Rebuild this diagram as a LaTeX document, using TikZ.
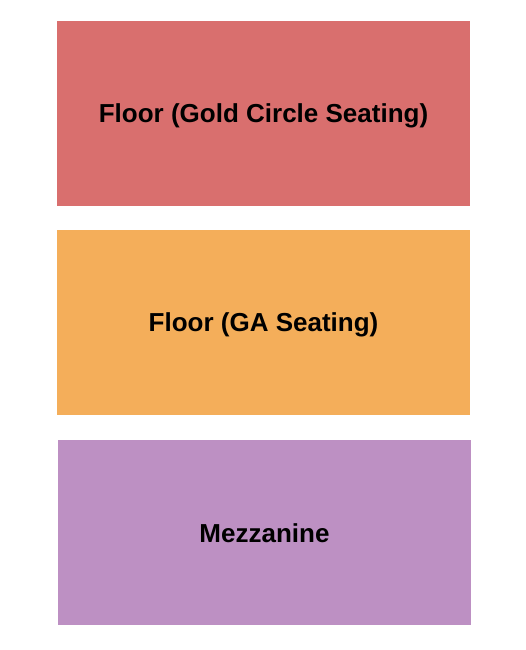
\documentclass[tikz,border=0pt]{standalone}
\usepackage{fontspec}
\setmainfont{Liberation Sans}
\begin{document}
\begin{tikzpicture}[x=1pt,y=1pt,
  sect/.style={draw=none,inner sep=0pt,minimum width=413pt,minimum height=185pt,font=\fontsize{26}{31}\selectfont\bfseries,text=black,text height=18.7pt,text depth=0pt}]
\definecolor{gold}{HTML}{D96F6E}
\definecolor{ga}{HTML}{F4AE5A}
\definecolor{mezz}{HTML}{BD90C3}
\useasboundingbox (0,0) rectangle (525,650);
\node[sect,fill=gold] (gold) at (263.5,536.5) {Floor (Gold Circle Seating)};
\node[sect,fill=ga] (ga) at (263.5,327.5) {Floor (GA Seating)};
\node[sect,fill=mezz] (mezz) at (264.5,117) {Mezzanine};
\end{tikzpicture}
\end{document}
